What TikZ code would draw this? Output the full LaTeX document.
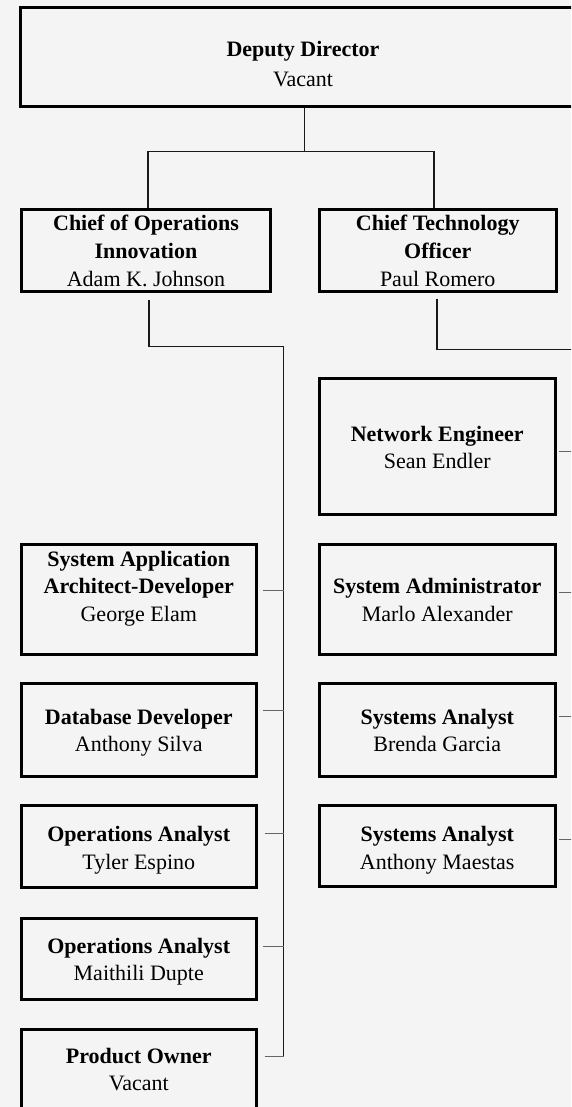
\documentclass[tikz,border=0pt]{standalone}
\usepackage{fontspec}
\setmainfont{Liberation Serif}
% struts that fix the height of the first line and the depth of the last one
\newcommand\cardtop{\rule{0pt}{16pt}}
\newcommand\cardbot{\rule[-6pt]{0pt}{6pt}}
\begin{document}
\begin{tikzpicture}[x=1pt,y=-1pt,
  card/.style={draw=black, line width=3pt, rectangle, inner sep=0pt},
  cardtext/.style={inner sep=0pt, align=center, text=black,
    font=\fontsize{22}{27.5}\selectfont},
  link/.style={draw=black!90, line width=1.2pt},
  stub/.style={draw=black!60, line width=1pt},
]
\useasboundingbox (0,0) rectangle (571,1107);
\fill[black!4.5] (0,0) rectangle (571,1107);
\clip (0,0) rectangle (571,1107);

% ---- boxes ----
\node[card, minimum width=619.5, minimum height=99]  (dep)    at (330.25,57) {};
\node[card, minimum width=248.5, minimum height=81.5] (ops)   at (145.75,250.25) {};
\node[card, minimum width=236.5, minimum height=81.5] (cto)   at (437.75,250.25) {};
\node[card, minimum width=235.5, minimum height=135.5] (net)  at (437.25,446.25) {};
\node[card, minimum width=234.5, minimum height=109.5] (sysapp) at (138.75,599.25) {};
\node[card, minimum width=235.5, minimum height=109.5] (sysadm) at (437.25,599.25) {};
\node[card, minimum width=234.5, minimum height=92.5] (dbdev)  at (138.75,729.75) {};
\node[card, minimum width=235.5, minimum height=92.5] (brenda) at (437.25,729.75) {};
\node[card, minimum width=234.5, minimum height=81.5] (tyler)  at (138.75,846.25) {};
\node[card, minimum width=235.5, minimum height=80.5] (maest)  at (437.25,845.75) {};
\node[card, minimum width=234.5, minimum height=80.5] (maith)  at (138.75,958.75) {};
\node[card, minimum width=234.5, minimum height=105.5] (prod)  at (138.75,1082.25) {};

% ---- texts ----
\node[cardtext, font=\fontsize{22}{30}\selectfont] (dep-t) at (303,67)
  {\cardtop\textbf{Deputy Director}\\Vacant\cardbot};
\node[cardtext] (ops-t) at (146,253.5)
  {\cardtop\textbf{Chief of Operations}\\\textbf{Innovation}\\Adam K. Johnson\cardbot};
\node[cardtext] (cto-t) at (437.75,253.5)
  {\cardtop\textbf{Chief Technology}\\\textbf{Officer}\\Paul Romero\cardbot};
\node[cardtext] (net-t) at (437.25,450)
  {\cardtop\textbf{Network Engineer}\\Sean Endler\cardbot};
\node[cardtext] (sysapp-t) at (138.75,588.5)
  {\cardtop\textbf{System Application}\\\textbf{Architect-Developer}\\George Elam\cardbot};
\node[cardtext] (sysadm-t) at (437.25,602.5)
  {\cardtop\textbf{System Administrator}\\Marlo Alexander\cardbot};
\node[cardtext] (dbdev-t) at (138.75,733)
  {\cardtop\textbf{Database Developer}\\Anthony Silva\cardbot};
\node[cardtext] (brenda-t) at (437.25,733)
  {\cardtop\textbf{Systems Analyst}\\Brenda Garcia\cardbot};
\node[cardtext] (tyler-t) at (138.75,850.4)
  {\cardtop\textbf{Operations Analyst}\\Tyler Espino\cardbot};
\node[cardtext] (maest-t) at (437.25,850.5)
  {\cardtop\textbf{Systems Analyst}\\Anthony Maestas\cardbot};
\node[cardtext] (maith-t) at (138.75,962)
  {\cardtop\textbf{Operations Analyst}\\Maithili Dupte\cardbot};
\node[cardtext] (prod-t) at (138.75,1072)
  {\cardtop\textbf{Product Owner}\\Vacant\cardbot};

% ---- junction points ----
\coordinate (topbus)  at (304.5,151.5);
\coordinate (opsdrop) at (148,151.5);
\coordinate (ctodrop) at (434,151.5);
\coordinate (opsbend) at (149,346.5);
\coordinate (opsbus)  at (283.5,346.5);
\coordinate (opsend)  at (283.5,1056);
\coordinate (ctobend) at (437,349.5);
\coordinate (ctoout)  at (590,349.5);
\coordinate (rightbus) at (590,0);

% ---- deputy director to the two chiefs ----
\draw[link] (dep.south -| topbus) -- (topbus);
\draw[link] (ops.north -| opsdrop) -- (opsdrop) -- (ctodrop) -- (cto.north -| ctodrop);

% ---- operations branch ----
\draw[link, shorten <=7pt] (ops.south -| opsbend) -- (opsbend) -- (opsbus) -- (opsend);
\draw[stub, shorten <=5pt] (sysapp.east |- 0,590)  -- (opsbus |- 0,590);
\draw[stub, shorten <=5pt] (dbdev.east  |- 0,710)  -- (opsbus |- 0,710);
\draw[stub, shorten <=7pt] (tyler.east  |- 0,833)  -- (opsbus |- 0,833);
\draw[stub, shorten <=5pt] (maith.east  |- 0,946)  -- (opsbus |- 0,946);
\draw[stub, shorten <=7pt] (prod.east   |- 0,1056) -- (opsend);

% ---- technology branch ----
\draw[link, shorten <=6pt] (cto.south -| ctobend) -- (ctobend) -- (ctoout);
\draw[stub, shorten <=2pt] (net.east    |- 0,451) -- (rightbus |- 0,451);
\draw[stub, shorten <=2pt] (sysadm.east |- 0,592) -- (rightbus |- 0,592);
\draw[stub, shorten <=2pt] (brenda.east |- 0,716) -- (rightbus |- 0,716);
\draw[stub, shorten <=2pt] (maest.east  |- 0,839) -- (rightbus |- 0,839);
\end{tikzpicture}
\end{document}
